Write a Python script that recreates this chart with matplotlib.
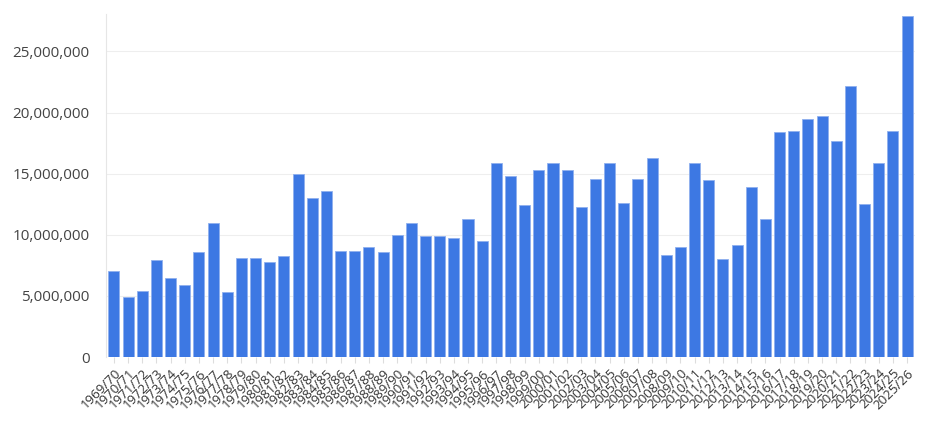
import matplotlib
matplotlib.use("Agg")
import matplotlib.pyplot as plt
from matplotlib.ticker import FuncFormatter

seasons = [f"{y}/{(y + 1) % 100:02d}" for y in range(1969, 2026)]
values = [7.0, 4.9, 5.4, 7.9, 6.5, 5.9, 8.6, 11.0, 5.3, 8.1,
          8.1, 7.8, 8.3, 15.0, 13.0, 13.6, 8.7, 8.7, 9.0, 8.6,
          10.0, 11.0, 9.9, 9.9, 9.7, 11.3, 9.5, 15.9, 14.8, 12.4,
          15.3, 15.9, 15.3, 12.3, 14.6, 15.9, 12.6, 14.6, 16.3, 8.35,
          9.0, 15.9, 14.5, 8.0, 9.2, 13.9, 11.3, 18.4, 18.5, 19.45,
          19.75, 17.65, 22.15, 12.55, 15.85, 18.5, 27.9]
values = [v * 1e6 for v in values]
yticks = [0, 5e6, 10e6, 15e6, 20e6, 25e6]

plt.rcParams['font.family'] = ['Open Sans', 'DejaVu Sans']
fig = plt.figure(figsize=(9.48, 4.24), dpi=100)
ax = fig.add_axes([0.112, 0.158, 0.853, 0.81])
x = list(range(len(seasons)))
ax.bar(x, values, width=0.78, color="#3d78e3", edgecolor="#8fb0ee", linewidth=0.6, zorder=3)
ax.set_xlim(-0.55, len(seasons) - 0.45)
ax.set_ylim(0, 28.1e6)
ax.set_yticks(yticks)
ax.yaxis.set_major_formatter(FuncFormatter(lambda v, p: f"{int(v):,}"))
ax.set_xticks(x)
ax.set_xticklabels(seasons, rotation=45, ha="right", rotation_mode="anchor", fontsize=9.5, color="#333333")
ax.tick_params(axis="y", length=0, labelsize=11, labelcolor="#444444", pad=12)
ax.tick_params(axis="x", length=4, color="#dddddd", pad=3)
ax.grid(axis="y", color="#eeeeee", linewidth=0.8, zorder=0)
for s in ["top", "right", "bottom"]:
    ax.spines[s].set_visible(False)
ax.spines["left"].set_color("#e6e6e6")
ax.spines["left"].set_linewidth(0.8)
fig.savefig("out.png", dpi=100)
